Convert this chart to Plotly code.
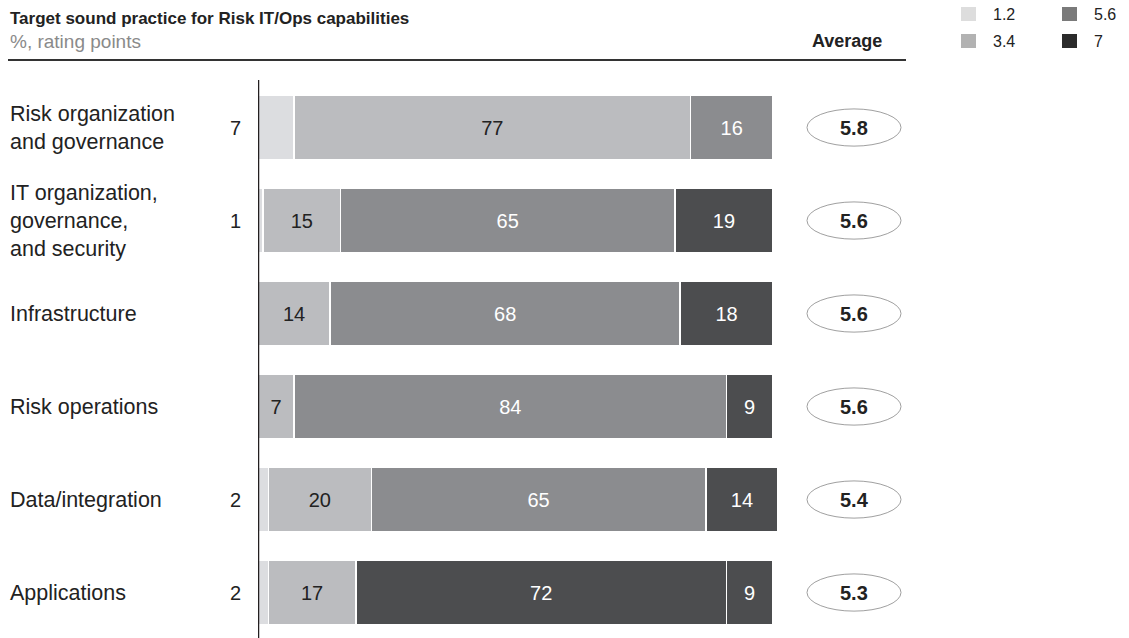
import plotly.graph_objects as go

# Capability rows, top to bottom
categories = [
    "Risk organization<br>and governance",
    "IT organization,<br>governance,<br>and security",
    "Infrastructure",
    "Risk operations",
    "Data/integration",
    "Applications",
]

# Share of respondents (%) at each rating point
rating_levels = ["1.2", "3.4", "5.6", "7"]
share_1_2 = [7, 1, 0, 0, 2, 2]
share_3_4 = [77, 15, 14, 7, 20, 17]
share_5_6 = [16, 65, 68, 84, 65, 72]
share_7 = [0, 19, 18, 9, 14, 9]

averages = ["5.8", "5.6", "5.6", "5.6", "5.4", "5.3"]

W, H = 1129, 638
FONT = "Arial, Liberation Sans, sans-serif"

bar_colors = {"1.2": "#dcdde0", "3.4": "#bbbcbf", "5.6": "#8b8c8f", "7": "#4c4d4f"}
legend_colors = {"1.2": "#dddddd", "3.4": "#b2b2b2", "5.6": "#7a7a7a", "7": "#2b2b2b"}


def fx(px):
    return px / W


def fy(py):
    return 1 - py / H


rows = list(range(len(categories)))

fig = go.Figure()

series = [
    ("1.2", share_1_2, [bar_colors["1.2"]] * 6, "#222222", False),
    ("3.4", share_3_4, [bar_colors["3.4"]] * 6, "#222222", True),
    # the Applications segment is shaded dark in this view
    ("5.6", share_5_6, [bar_colors["5.6"]] * 5 + [bar_colors["7"]], "#ffffff", True),
    ("7", share_7, [bar_colors["7"]] * 6, "#ffffff", True),
]

for name, vals, colors, tcolor, show_text in series:
    fig.add_trace(go.Bar(
        y=rows, x=vals, orientation="h", name=name,
        marker=dict(color=colors, line=dict(color="#ffffff", width=1.5)),
        width=0.70,
        text=[str(v) if (v and show_text) else "" for v in vals],
        textposition="inside", insidetextanchor="middle",
        textfont=dict(family=FONT, size=20, color=tcolor),
        textangle=0,
        showlegend=False, hoverinfo="skip",
    ))

fig.update_layout(
    barmode="stack",
    width=W, height=H,
    margin=dict(l=0, r=0, t=0, b=0),
    paper_bgcolor="white", plot_bgcolor="white",
    uniformtext=dict(mode="show", minsize=10),
    xaxis=dict(domain=[fx(258), fx(778)], range=[0, 101], visible=False, fixedrange=True),
    yaxis=dict(domain=[0, fy(80)], range=[5.489, -0.511], visible=False, fixedrange=True),
)

shapes = []
annotations = []

# vertical baseline at 0 %
shapes.append(dict(type="line", xref="x", yref="paper", x0=0, x1=0, y0=0, y1=fy(80),
                   line=dict(color="#231f20", width=2.5)))

# header rule
shapes.append(dict(type="line", xref="paper", yref="paper", x0=fx(8), x1=fx(906),
                   y0=fy(60), y1=fy(60), line=dict(color="#333333", width=2)))

# title and unit line
annotations.append(dict(xref="paper", yref="paper", x=fx(8), y=fy(18), xanchor="left", yanchor="middle",
                        text="<b>Target sound practice for Risk IT/Ops capabilities</b>", showarrow=False,
                        font=dict(family=FONT, size=17, color="#222222")))
annotations.append(dict(xref="paper", yref="paper", x=fx(8), y=fy(41), xanchor="left", yanchor="middle",
                        text="%, rating points", showarrow=False,
                        font=dict(family=FONT, size=19, color="#8a8a8a")))
annotations.append(dict(xref="paper", yref="paper", x=fx(884), y=fy(41), xanchor="right", yanchor="middle",
                        text="<b>Average</b>", showarrow=False,
                        font=dict(family=FONT, size=18, color="#222222")))

# row labels, outside 1.2 values and average ellipses
for i, (cat, v12, avg) in enumerate(zip(categories, share_1_2, averages)):
    annotations.append(dict(xref="paper", yref="y", x=fx(8), y=i, xanchor="left", yanchor="middle",
                            text=cat, align="left", showarrow=False,
                            font=dict(family=FONT, size=21.5, color="#222222")))
    if v12:
        annotations.append(dict(xref="x", yref="y", x=0, y=i, xanchor="right", yanchor="middle",
                                xshift=-15, text=str(v12), showarrow=False,
                                font=dict(family=FONT, size=20, color="#222222")))
    shapes.append(dict(type="circle", xref="paper", yref="y",
                       x0=fx(807), x1=fx(901), y0=i - 0.2, y1=i + 0.2,
                       line=dict(color="#a0a0a0", width=1), fillcolor="white"))
    annotations.append(dict(xref="paper", yref="y", x=fx(854), y=i, xanchor="center", yanchor="middle",
                            text=f"<b>{avg}</b>", showarrow=False,
                            font=dict(family=FONT, size=20, color="#222222")))

# legend: two rows of swatches
legend_pos = {"1.2": (961, 14), "3.4": (961, 41), "5.6": (1062, 14), "7": (1062, 41)}
for lvl in rating_levels:
    x0, yc = legend_pos[lvl]
    shapes.append(dict(type="rect", xref="paper", yref="paper",
                       x0=fx(x0), x1=fx(x0 + 15), y0=fy(yc - 7), y1=fy(yc + 7),
                       line=dict(width=0), fillcolor=legend_colors[lvl]))
    annotations.append(dict(xref="paper", yref="paper", x=fx(x0 + 30), y=fy(yc), xanchor="left",
                            yanchor="middle", text=lvl, showarrow=False,
                            font=dict(family=FONT, size=16, color="#222222")))

fig.update_layout(shapes=shapes, annotations=annotations)

fig.write_html("out.html")
